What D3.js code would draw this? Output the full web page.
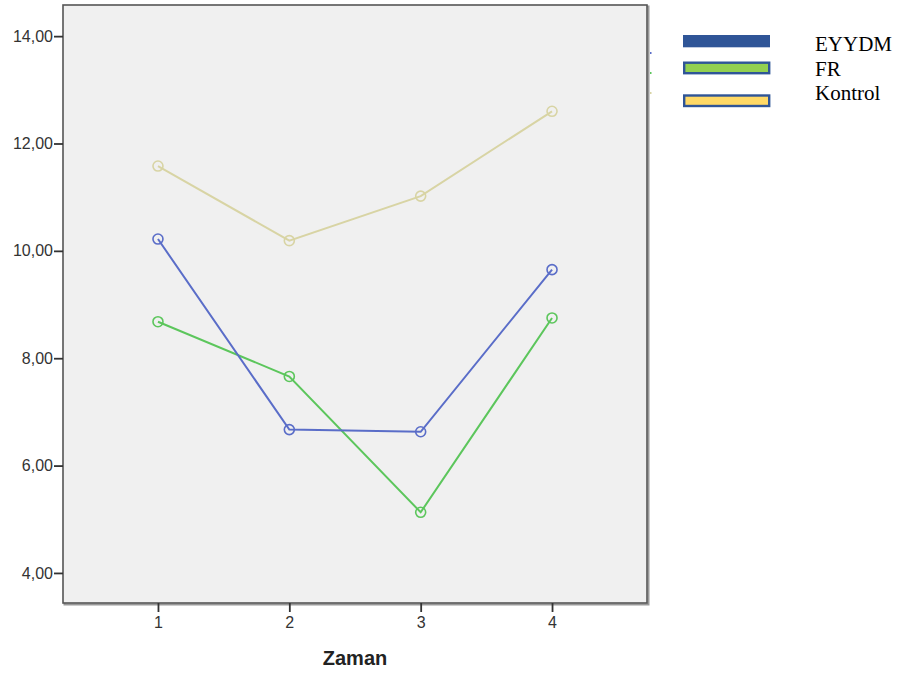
<!DOCTYPE html>
<html>
<head>
<meta charset="utf-8">
<script src="https://cdn.jsdelivr.net/npm/d3@7.9.0/dist/d3.min.js"></script>
<style>
  body { margin: 0; background: #fff; }
  svg { display: block; }
</style>
</head>
<body>
<div id="chart"></div>
<script>
// data
const zaman = [1, 2, 3, 4];
const eyydm = [10.22, 6.67, 6.63, 9.65];
const fr = [8.68, 7.66, 5.13, 8.75];
const kontrol = [11.58, 10.19, 11.02, 12.60];
const yTicks = [4, 6, 8, 10, 12, 14];
const groups = ['EYYDM', 'FR', 'Kontrol'];

const width = 912;
const height = 679;
const plot = { left: 63, right: 647, top: 5, bottom: 603 };

const svg = d3.select('#chart').append('svg')
  .attr('width', width)
  .attr('height', height);

const x = d3.scaleLinear()
  .domain([0.277, 4.723])
  .range([plot.left, plot.right]);

const y = d3.scaleLinear()
  .domain([3.44, 14.58])
  .range([plot.bottom, plot.top]);

// frame with a little shadow
svg.append('rect')
  .attr('x', plot.left + 1.5).attr('y', plot.top + 1.5)
  .attr('width', plot.right - plot.left).attr('height', plot.bottom - plot.top)
  .attr('fill', 'none').attr('stroke', '#999').attr('stroke-width', 2);
svg.append('rect')
  .attr('x', plot.left).attr('y', plot.top)
  .attr('width', plot.right - plot.left).attr('height', plot.bottom - plot.top)
  .attr('fill', '#f0f0f0').attr('stroke', '#555').attr('stroke-width', 1.6);

// axes
const tickFont = (g) => g.selectAll('text')
  .attr('fill', '#333')
  .style('font-family', 'Arial, "Liberation Sans", sans-serif')
  .style('font-size', '16px');

const yAxis = d3.axisLeft(y)
  .tickValues(yTicks)
  .tickSize(9)
  .tickPadding(1)
  .tickFormat((d) => d3.format('.2f')(d).replace('.', ','));

const xAxis = d3.axisBottom(x)
  .tickValues(zaman)
  .tickSize(9)
  .tickPadding(5)
  .tickFormat(d3.format('d'));

svg.append('g')
  .attr('transform', `translate(${plot.left},0)`)
  .call(yAxis)
  .call((g) => g.select('.domain').remove())
  .call((g) => g.selectAll('line').attr('stroke', '#333').attr('stroke-width', 1.8))
  .call(tickFont);

svg.append('g')
  .attr('transform', `translate(0,${plot.bottom})`)
  .call(xAxis)
  .call((g) => g.select('.domain').remove())
  .call((g) => g.selectAll('line').attr('stroke', '#333').attr('stroke-width', 1.8))
  .call(tickFont);

svg.append('text')
  .attr('x', (plot.left + plot.right) / 2)
  .attr('y', 665)
  .attr('text-anchor', 'middle')
  .attr('fill', '#222')
  .style('font-family', 'Arial, "Liberation Sans", sans-serif')
  .style('font-size', '20px')
  .style('font-weight', 'bold')
  .text('Zaman');

// lines
const series = [
  { name: 'EYYDM', values: eyydm, color: '#5a6dc8' },
  { name: 'FR', values: fr, color: '#5cc65c' },
  { name: 'Kontrol', values: kontrol, color: '#d8d4a4' },
];

const line = d3.line()
  .x((d) => x(d[0]))
  .y((d) => y(d[1]));

const lines = svg.append('g');
[...series].reverse().forEach((s) => {
  const pts = zaman.map((z, i) => [z, s.values[i]]);
  lines.append('path')
    .datum(pts)
    .attr('d', line)
    .attr('fill', 'none')
    .attr('stroke', s.color)
    .attr('stroke-width', 2);
  lines.selectAll(null)
    .data(pts)
    .join('circle')
    .attr('cx', (d) => x(d[0]))
    .attr('cy', (d) => y(d[1]))
    .attr('r', 5)
    .attr('fill', 'none')
    .attr('stroke', s.color)
    .attr('stroke-width', 1.6);
});

// tiny leftover legend dots next to the frame
svg.selectAll('.dot')
  .data(series)
  .join('rect')
  .attr('class', 'dot')
  .attr('x', 650)
  .attr('y', (d, i) => 52 + i * 20)
  .attr('width', 1.5).attr('height', 2)
  .attr('fill', (d) => d.color);

// legend
const legendFill = ['#2f5597', '#92d050', '#ffd966'];
const legendY = [35, 61.5, 94.3];
const legendTextY = [51, 76, 100];

const legend = svg.append('g');
legend.selectAll('rect')
  .data(groups)
  .join('rect')
  .attr('x', (d, i) => (i === 0 ? 683 : 684.2))
  .attr('y', (d, i) => legendY[i] + (i === 0 ? 0 : 1.2))
  .attr('width', (d, i) => (i === 0 ? 87 : 85))
  .attr('height', (d, i) => (i === 0 ? 12.3 : 10.5))
  .attr('fill', (d, i) => legendFill[i])
  .attr('stroke', (d, i) => (i === 0 ? 'none' : '#2f5597'))
  .attr('stroke-width', 2.4);

legend.selectAll('text')
  .data(groups)
  .join('text')
  .attr('x', 815)
  .attr('y', (d, i) => legendTextY[i])
  .attr('fill', '#000')
  .style('font-family', '"Liberation Serif", "Times New Roman", serif')
  .style('font-size', '21px')
  .text((d) => d);
</script>
</body>
</html>
